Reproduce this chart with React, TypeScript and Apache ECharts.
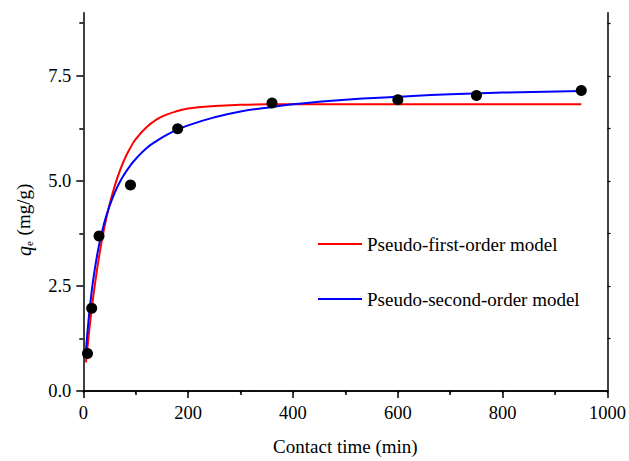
import React, { useEffect, useRef } from "react";
import * as echarts from "echarts";

// Experimental data
const expTime = [8, 16, 30, 90, 180, 360, 600, 750, 950];
const expQ = [0.89, 1.97, 3.69, 4.9, 6.24, 6.85, 6.93, 7.03, 7.15];

// Model curves
const modelTime = [5, 10, 15, 20, 30, 40, 50, 60, 70, 80, 90, 100, 120, 140, 160, 180, 200, 250, 300, 350, 400, 500, 600, 700, 800, 950];
const pfoQ = [0.68, 1.29, 1.84, 2.34, 3.19, 3.88, 4.43, 4.88, 5.25, 5.55, 5.79, 5.99, 6.27, 6.46, 6.58, 6.66, 6.72, 6.78, 6.81, 6.82, 6.82, 6.82, 6.82, 6.82, 6.82, 6.82];
const psoQ = [0.95, 1.68, 2.26, 2.74, 3.47, 4.0, 4.4, 4.72, 4.98, 5.19, 5.37, 5.52, 5.77, 5.95, 6.1, 6.22, 6.32, 6.51, 6.65, 6.74, 6.82, 6.93, 7.0, 7.06, 7.1, 7.14];

const yMajor = [0, 2.5, 5, 7.5];
const yMinor = [1.25, 3.75, 6.25, 8.75];
const yRightTicks = [1.25, 2.5, 3.75, 5, 6.25, 7.5, 8.75];

const FONT = "Liberation Serif, Times New Roman, serif";

export default function App() {
  const ref = useRef<HTMLDivElement>(null);
  useEffect(() => {
    if (!ref.current) return;
    const chart = echarts.init(ref.current, null, { renderer: "svg" });
    const axisLine = { show: true, lineStyle: { color: "#000", width: 1.5 } };
    chart.setOption({
      animation: false,
      backgroundColor: "#fff",
      textStyle: { fontFamily: FONT },
      grid: { left: 83.3, right: 19.7, top: 12.7, bottom: 65.3, containLabel: false },
      legend: {
        orient: "vertical",
        left: 318,
        top: 234,
        padding: 0,
        itemWidth: 44,
        itemHeight: 2,
        itemGap: 35,
        icon: "rect",
        textStyle: { fontFamily: FONT, fontSize: 19, color: "#000", lineHeight: 20 },
        data: ["Pseudo-first-order model", "Pseudo-second-order model"],
      },
      xAxis: [
        {
          type: "value",
          min: 0,
          max: 1000,
          interval: 200,
          position: "bottom",
          name: "Contact time (min)",
          nameLocation: "middle",
          nameGap: 46,
          nameTextStyle: { fontFamily: FONT, fontSize: 19, color: "#000" },
          axisLine,
          axisTick: { show: true, length: 7, lineStyle: { color: "#000", width: 1.5 } },
          minorTick: { show: true, splitNumber: 2, length: 4, lineStyle: { color: "#000", width: 1.5 } },
          axisLabel: {
            fontFamily: FONT,
            fontSize: 18.5,
            color: "#000",
            margin: 12,
            formatter: (v: number) => String(v),
          },
          splitLine: { show: false },
          minorSplitLine: { show: false },
        },
        {
          type: "value",
          min: 0,
          max: 1000,
          interval: 100,
          position: "top",
          axisLine,
          axisTick: { show: true, inside: true, length: 2, lineStyle: { color: "#000", width: 1.2 } },
          axisLabel: { show: false },
          splitLine: { show: false },
        },
      ],
      yAxis: [
        {
          type: "value",
          min: 0,
          max: 9,
          position: "left",
          name: "{q|q}{e|e}{n| (mg/g)}",
          nameLocation: "middle",
          nameRotate: 90,
          nameGap: 49,
          nameTextStyle: {
            fontFamily: FONT,
            fontSize: 19,
            color: "#000",
            padding: [0, 36, 0, 0],
            rich: {
              q: { fontFamily: FONT, fontSize: 20, fontStyle: "italic", color: "#000" },
              e: { fontFamily: FONT, fontSize: 11, color: "#000", verticalAlign: "bottom", padding: [10, 1, 0, 0] },
              n: { fontFamily: FONT, fontSize: 19, color: "#000" },
            },
          },
          axisLine,
          axisTick: { show: true, length: 7, customValues: yMajor, lineStyle: { color: "#000", width: 1.5 } },
          axisLabel: {
            fontFamily: FONT,
            fontSize: 18.5,
            color: "#000",
            margin: 12,
            customValues: yMajor,
            formatter: (v: number) => v.toFixed(1),
          },
          splitLine: { show: false },
        },
        {
          type: "value",
          min: 0,
          max: 9,
          position: "left",
          axisLine: { show: false },
          axisTick: { show: true, length: 4, customValues: yMinor, lineStyle: { color: "#000", width: 1.5 } },
          axisLabel: { show: false },
          splitLine: { show: false },
        },
        {
          type: "value",
          min: 0,
          max: 9,
          position: "right",
          axisLine,
          axisTick: { show: true, length: 3, customValues: yRightTicks, lineStyle: { color: "#000", width: 1.2 } },
          axisLabel: { show: false },
          splitLine: { show: false },
        },
      ],
      series: [
        {
          name: "Pseudo-first-order model",
          type: "line",
          xAxisIndex: 0,
          yAxisIndex: 0,
          data: modelTime.map((t, i) => [t, pfoQ[i]]),
          smooth: true,
          showSymbol: false,
          symbol: "none",
          lineStyle: { color: "#ff0000", width: 2 },
          itemStyle: { color: "#ff0000" },
          z: 3,
        },
        {
          name: "Pseudo-second-order model",
          type: "line",
          xAxisIndex: 0,
          yAxisIndex: 0,
          data: modelTime.map((t, i) => [t, psoQ[i]]),
          smooth: true,
          showSymbol: false,
          symbol: "none",
          lineStyle: { color: "#0000ff", width: 2 },
          itemStyle: { color: "#0000ff" },
          z: 4,
        },
        {
          name: "Experimental",
          type: "scatter",
          xAxisIndex: 0,
          yAxisIndex: 0,
          data: expTime.map((t, i) => [t, expQ[i]]),
          symbol: "circle",
          symbolSize: 11,
          itemStyle: { color: "#000", opacity: 1 },
          z: 5,
        },
      ],
    });
    return () => chart.dispose();
  }, []);
  return (
    <div
      ref={ref}
      style={{ position: "fixed", left: 0, top: 0, width: 629, height: 461, background: "#fff" }}
    />
  );
}
